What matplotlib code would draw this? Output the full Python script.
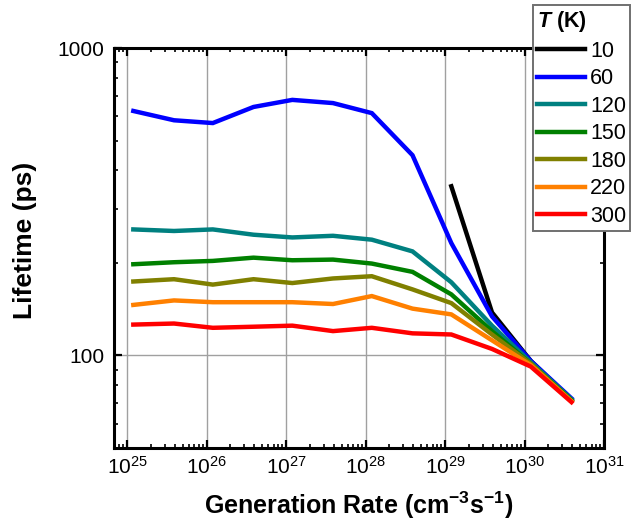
import numpy as np
import matplotlib
matplotlib.use("Agg")
import matplotlib.pyplot as plt
from matplotlib.ticker import LogLocator, FixedLocator, FixedFormatter, NullFormatter

plt.rcParams['font.family'] = ['Liberation Sans', 'DejaVu Sans']
plt.rcParams['mathtext.fontset'] = 'custom'
plt.rcParams['mathtext.rm'] = 'Liberation Sans'
plt.rcParams['mathtext.it'] = 'Liberation Sans:italic'
plt.rcParams['mathtext.bf'] = 'Liberation Sans:bold'
plt.rcParams['mathtext.bfit'] = 'Liberation Sans:italic:bold'

# generation rate (cm^-3 s^-1)
gen_rate = [1.2e25, 3.9e25, 1.2e26, 3.9e26, 1.2e27, 3.9e27,
            1.2e28, 3.9e28, 1.2e29, 3.9e29, 1.2e30, 3.9e30]

# lifetime (ps) per temperature
temps = ["10", "60", "120", "150", "180", "220", "300"]
tau_10 = [np.nan] * 8 + [355, 138, 96, 71.5]
tau_60 = [624, 582, 570, 643, 678, 662, 614, 448, 232, 134, 96, 72.5]
tau_120 = [257, 254, 257, 247, 242, 245, 238, 218, 173, 125, 95, 72]
tau_150 = [198, 201, 203, 208, 204, 205, 199, 187, 158, 120, 94, 71.5]
tau_180 = [174, 177, 170, 177, 172, 178, 181, 164, 148, 117, 94, 71]
tau_220 = [146, 151, 149, 149, 149, 147, 156, 142, 136, 112, 93, 71]
tau_300 = [126, 127, 123, 124, 125, 120, 123, 118, 117, 105, 92, 70.5]

series = [tau_10, tau_60, tau_120, tau_150, tau_180, tau_220, tau_300]
colors = ["#000000", "#0000ff", "#008080", "#008000", "#808000", "#ff8000", "#ff0000"]

fig = plt.figure(figsize=(6.31, 5.30), dpi=100)
ax = fig.add_axes([114 / 631, 1 - 448 / 530, 490 / 631, 400 / 530])

for vals, c, t in zip(series, colors, temps):
    ax.plot(gen_rate, vals, color=c, lw=3.2, label=t, solid_joinstyle='miter')

ax.set_xscale('log')
ax.set_yscale('log')
ax.set_xlim(10 ** 24.836, 1e31)
ax.set_ylim(50, 1000)

ax.xaxis.set_major_locator(FixedLocator([1e25, 1e26, 1e27, 1e28, 1e29, 1e30, 1e31]))
ax.xaxis.set_major_formatter(FixedFormatter(
    [r'$10^{%d}$' % e for e in range(25, 32)]))
ax.xaxis.set_minor_locator(LogLocator(base=10, subs=np.arange(2, 10), numticks=20))
ax.xaxis.set_minor_formatter(NullFormatter())

ax.yaxis.set_major_locator(FixedLocator([100, 1000]))
ax.yaxis.set_major_formatter(FixedFormatter(["100", "1000"]))
ax.yaxis.set_minor_locator(LogLocator(base=10, subs=np.arange(2, 10), numticks=20))
ax.yaxis.set_minor_formatter(NullFormatter())

ax.grid(True, which='major', color='#a0a0a0', lw=1.0)
ax.set_axisbelow(True)

for s in ax.spines.values():
    s.set_linewidth(2.2)

ax.tick_params(which='both', direction='in', top=True, right=True, labelsize=15)
ax.tick_params(which='major', length=6, width=1.6, pad=7)
ax.tick_params(which='minor', length=3, width=1.2)
ax.tick_params(axis='x', which='major', pad=6)

ax.set_xlabel(r'Generation Rate (cm$^{\mathbf{-3}}$s$^{\mathbf{-1}}$)',
              fontsize=18, fontweight='bold', labelpad=8)
ax.set_ylabel('Lifetime (ps)', fontsize=19, fontweight='bold')
ax.yaxis.set_label_coords(-0.157, 0.52)

leg = ax.legend(loc='upper left', bbox_to_anchor=(533 / 631, 1 - 5 / 530),
                bbox_transform=fig.transFigure, borderaxespad=0,
                fontsize=15.5, handlelength=2.2, handletextpad=0.25,
                labelspacing=0.3, borderpad=0.2, fancybox=False,
                framealpha=1, edgecolor='#707070',
                title=r'$\mathbfit{T}$ (K)', alignment='left',
                title_fontproperties={'weight': 'bold', 'size': 15.5})
leg.get_frame().set_linewidth(1.4)

fig.savefig('out.png', dpi=100)
